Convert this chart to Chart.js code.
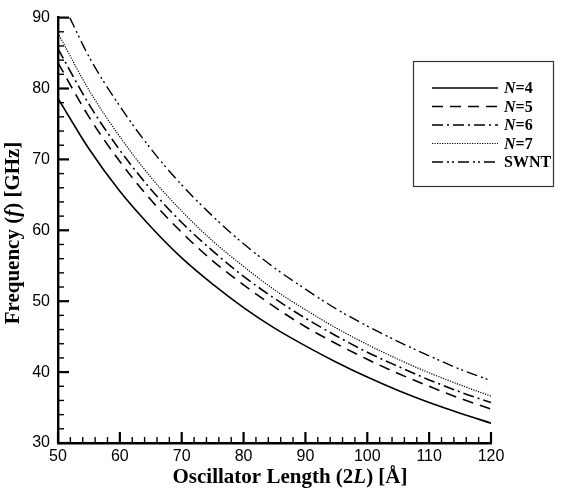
<!DOCTYPE html>
<html>
<head>
<meta charset="utf-8">
<script src="https://cdn.jsdelivr.net/npm/chart.js@4/dist/chart.umd.min.js"></script>
<style>
  html, body { margin: 0; padding: 0; background: #fff; }
  #wrap { width: 570px; height: 491px; }
</style>
</head>
<body>
<div id="wrap"><canvas id="chart" width="570" height="491"></canvas></div>
<script>
// oscillator length 2L [A]
var lengths = [50, 55, 60, 65, 70, 75, 80, 85, 90, 95, 100, 105, 110, 115, 120];
var swntLengths = [51.9, 55, 60, 65, 70, 75, 80, 85, 90, 95, 100, 105, 110, 115, 120];

// frequency f [GHz]
var n4 = [78.6, 71.5, 65.5, 60.5, 56.1, 52.4, 49.1, 46.2, 43.7, 41.4, 39.3, 37.4, 35.7, 34.2, 32.8];
var n5 = [83.6, 76.0, 69.7, 64.3, 59.7, 55.7, 52.3, 49.2, 46.4, 44.0, 41.8, 39.8, 38.0, 36.3, 34.8];
var n6 = [85.6, 77.8, 71.3, 65.8, 61.1, 57.1, 53.5, 50.4, 47.6, 45.1, 42.8, 40.8, 38.9, 37.2, 35.7];
var n7 = [87.8, 79.8, 73.2, 67.5, 62.7, 58.5, 54.9, 51.6, 48.8, 46.2, 43.9, 41.8, 39.9, 38.2, 36.6];
var swnt = [90.0, 84.5, 77.5, 71.5, 66.4, 62.0, 58.1, 54.7, 51.7, 48.9, 46.5, 44.3, 42.3, 40.4, 38.8];

var seriesNames = [
  [{t: 'N', i: true}, {t: '=4'}],
  [{t: 'N', i: true}, {t: '=5'}],
  [{t: 'N', i: true}, {t: '=6'}],
  [{t: 'N', i: true}, {t: '=7'}],
  [{t: 'SWNT'}]
];

var xTitle = [{t: 'Oscillator Length (2'}, {t: 'L', i: true}, {t: ') [\u00C5]'}];
var yTitle = [{t: 'Frequency ('}, {t: 'f', i: true}, {t: ') [GHz]'}];

function pts(xs, ys) {
  return xs.map(function (x, k) { return {x: x, y: ys[k]}; });
}

var serif = '"Liberation Serif", "Times New Roman", serif';
var sans = '"Liberation Sans", Arial, Helvetica, sans-serif';

function richWidth(ctx, segs, size) {
  var w = 0;
  segs.forEach(function (s) {
    ctx.font = (s.i ? 'italic ' : '') + 'bold ' + size + 'px ' + serif;
    w += ctx.measureText(s.t).width;
  });
  return w;
}

function richText(ctx, segs, x, y, size) {
  segs.forEach(function (s) {
    ctx.font = (s.i ? 'italic ' : '') + 'bold ' + size + 'px ' + serif;
    ctx.fillText(s.t, x, y);
    x += ctx.measureText(s.t).width;
  });
}

var extras = {
  id: 'extras',
  afterDraw: function (chart) {
    var ctx = chart.ctx;
    var xs = chart.scales.x, ys = chart.scales.y;
    var a = chart.chartArea;
    ctx.save();
    ctx.setLineDash([]);
    ctx.strokeStyle = '#000';

    // inward ticks, major every 10, minor every 2
    var v, p, major;
    for (v = 50; v <= 120; v += 2) {
      major = v % 10 === 0;
      p = xs.getPixelForValue(v);
      ctx.lineWidth = major ? 2.2 : 1.4;
      ctx.beginPath();
      ctx.moveTo(p, a.bottom);
      ctx.lineTo(p, a.bottom - (major ? 11 : 6));
      ctx.stroke();
    }
    for (v = 30; v <= 90; v += 2) {
      major = v % 10 === 0;
      p = ys.getPixelForValue(v);
      ctx.lineWidth = major ? 2.2 : 1.4;
      ctx.beginPath();
      ctx.moveTo(a.left, p);
      ctx.lineTo(a.left + (major ? 11 : 6), p);
      ctx.stroke();
    }

    // axis titles
    ctx.fillStyle = '#000';
    ctx.textBaseline = 'middle';
    ctx.textAlign = 'left';
    var w = richWidth(ctx, xTitle, 21);
    richText(ctx, xTitle, 290 - w / 2, 478, 21);

    ctx.save();
    ctx.translate(14, 233);
    ctx.rotate(-Math.PI / 2);
    w = richWidth(ctx, yTitle, 21);
    richText(ctx, yTitle, -w / 2, 0, 21);
    ctx.restore();

    // legend box
    var bx = 413, by = 61, bw = 140, bh = 125;
    ctx.lineWidth = 1.2;
    ctx.strokeStyle = '#333';
    ctx.strokeRect(bx + 0.5, by + 0.5, bw, bh);
    chart.data.datasets.forEach(function (ds, k) {
      var yy = by + 27 + k * 18.5;
      ctx.strokeStyle = ds.borderColor;
      ctx.lineWidth = ds.borderWidth;
      ctx.setLineDash(ds.borderDash || []);
      ctx.beginPath();
      ctx.moveTo(bx + 19, yy);
      ctx.lineTo(bx + 85, yy);
      ctx.stroke();
      ctx.setLineDash([]);
      richText(ctx, seriesNames[k], bx + 91, yy + 1, 16);
    });
    ctx.restore();
  }
};

function line(label, xs, ys, dash, width) {
  return {
    label: label,
    data: pts(xs, ys),
    borderColor: '#000',
    backgroundColor: '#000',
    borderWidth: width,
    borderDash: dash,
    pointRadius: 0,
    cubicInterpolationMode: 'monotone',
    fill: false
  };
}

new Chart(document.getElementById('chart'), {
  type: 'line',
  data: {
    datasets: [
      line('N=4', lengths, n4, [], 1.6),
      line('N=5', lengths, n5, [11, 7], 1.6),
      line('N=6', lengths, n6, [11, 4, 2, 4], 1.6),
      line('N=7', lengths, n7, [1.2, 1.3], 1.2),
      line('SWNT', swntLengths, swnt, [11, 4, 2, 3, 2, 4], 1.4)
    ]
  },
  options: {
    responsive: false,
    animation: false,
    layout: { padding: { top: 15, right: 79, left: 0, bottom: 0 } },
    plugins: { legend: { display: false }, tooltip: { enabled: false } },
    scales: {
      x: {
        type: 'linear',
        min: 50, max: 120,
        grid: { display: false, drawTicks: false },
        border: { display: true, color: '#000', width: 2.4 },
        ticks: { stepSize: 10, color: '#000', padding: 4, maxRotation: 0,
                 font: { family: sans, size: 16 } },
        afterFit: function (s) { s.height = 48; }
      },
      y: {
        min: 30, max: 90,
        grid: { display: false, drawTicks: false },
        border: { display: true, color: '#000', width: 2.4 },
        ticks: { stepSize: 10, color: '#000', padding: 8,
                 font: { family: sans, size: 16 } },
        afterFit: function (s) { s.width = 58; }
      }
    }
  },
  plugins: [extras]
});
</script>
</body>
</html>
